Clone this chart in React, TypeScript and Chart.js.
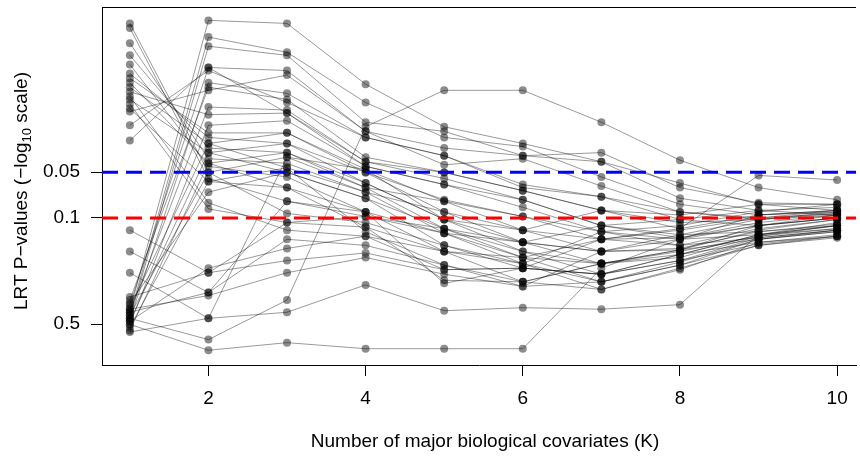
import React, { useEffect, useRef } from "react";
import Chart from "chart.js/auto";

// ---- data (values are -log10 of LRT P-values) ----
const kValues = [1, 2, 3, 4, 5, 6, 7, 8, 9, 10];
const xTickValues = [2, 4, 6, 8, 10];
const yTickPValues = [0.05, 0.1, 0.5];
const yTickLabels = ["0.05", "0.1", "0.5"];
const thresholdPValues = [0.05, 0.1];

const s01 = [0.39, 2.30, 2.28, 1.88, 1.60, 1.49, 1.37, 1.13, 1.05, 1.02];
const s02 = [0.36, 2.19, 2.09, 1.76, 1.53, 1.47, 1.27, 1.09, 1.02, 1.05];
const s03 = [0.34, 2.13, 2.07, 1.63, 1.57, 1.41, 1.43, 1.20, 1.10, 1.09];
const s04 = [0.43, 1.99, 1.97, 1.57, 1.35, 1.39, 1.21, 1.04, 0.99, 1.03];
const s05 = [0.33, 1.89, 1.82, 1.53, 1.41, 1.22, 1.14, 0.99, 0.95, 1.00];
const s06 = [0.46, 1.86, 1.78, 1.40, 1.30, 1.18, 1.05, 0.93, 1.28, 1.25];
const s07 = [0.38, 1.73, 1.71, 1.37, 1.26, 1.12, 0.95, 0.89, 0.91, 0.95];
const s08 = [0.30, 1.61, 1.64, 1.34, 1.22, 1.07, 0.91, 0.86, 0.89, 0.93];
const s09 = [0.41, 1.49, 1.56, 1.32, 1.11, 1.01, 0.86, 0.82, 0.87, 0.92];
const s10 = [0.32, 1.43, 1.49, 1.30, 1.04, 0.92, 0.78, 0.79, 0.86, 0.91];
const s11 = [0.26, 1.36, 1.43, 1.23, 0.99, 0.84, 0.70, 0.76, 0.84, 0.89];
const s12 = [0.36, 1.30, 1.40, 1.20, 0.93, 0.78, 0.63, 0.72, 0.83, 0.88];
const s13 = [0.28, 1.24, 1.33, 1.17, 0.90, 0.74, 0.58, 0.69, 0.82, 0.87];
const s14 = [0.44, 1.17, 1.30, 1.13, 0.82, 0.70, 0.53, 0.66, 0.84, 0.88];
const s15 = [0.30, 0.13, 0.18, 0.14, 0.14, 0.14, 0.67, 0.86, 1.02, 1.04];
const s16 = [0.34, 0.20, 0.46, 1.60, 1.84, 1.84, 1.63, 1.38, 1.20, 1.12];
const s17 = [0.25, 0.34, 0.38, 0.56, 0.39, 0.41, 0.40, 0.43, 0.89, 0.97];
const s18 = [0.38, 0.51, 0.86, 0.82, 0.69, 0.58, 0.70, 0.79, 0.95, 1.02];
const s19 = [0.40, 0.49, 0.64, 0.74, 0.63, 0.55, 0.78, 0.89, 0.99, 1.04];
const s20 = [0.48, 0.64, 0.72, 0.77, 0.66, 0.67, 0.86, 0.92, 1.00, 1.05];
const s21 = [0.32, 0.67, 0.80, 0.88, 0.78, 0.70, 0.91, 0.95, 1.04, 1.09];
const s22 = [0.92, 0.64, 0.97, 1.01, 0.90, 0.84, 0.95, 0.99, 1.05, 1.07];
const s23 = [0.78, 0.51, 1.11, 1.04, 0.78, 0.74, 0.86, 0.93, 1.02, 1.05];
const s24 = [0.64, 0.34, 1.40, 1.32, 0.99, 0.92, 1.05, 1.02, 1.09, 1.09];
const s25 = [2.28, 1.30, 1.03, 0.97, 0.82, 0.67, 0.63, 0.76, 0.89, 0.95];
const s26 = [2.25, 1.26, 1.11, 1.01, 0.93, 0.74, 0.70, 0.79, 0.92, 0.99];
const s27 = [2.15, 1.39, 1.36, 1.17, 1.04, 0.84, 0.78, 0.86, 0.95, 1.00];
const s28 = [2.07, 1.46, 1.43, 1.20, 1.11, 0.92, 0.86, 0.87, 0.97, 1.02];
const s29 = [2.01, 1.34, 1.27, 1.04, 0.90, 0.70, 0.58, 0.69, 0.86, 0.92];
const s30 = [1.95, 1.53, 1.49, 1.23, 0.99, 0.78, 0.70, 0.74, 0.88, 0.93];
const s31 = [1.92, 1.56, 1.56, 1.30, 1.12, 1.01, 0.91, 0.82, 0.93, 0.99];
const s32 = [1.89, 1.36, 1.20, 0.94, 0.78, 0.58, 0.53, 0.67, 0.82, 0.88];
const s33 = [1.86, 1.49, 1.33, 0.91, 0.69, 0.55, 0.58, 0.71, 0.86, 0.91];
const s34 = [1.83, 1.68, 1.69, 1.34, 1.22, 1.12, 0.95, 0.87, 0.95, 1.00];
const s35 = [1.80, 1.10, 0.92, 0.88, 0.66, 0.67, 0.63, 0.72, 0.87, 0.92];
const s36 = [1.78, 1.43, 1.30, 1.13, 0.93, 0.84, 0.78, 0.80, 0.91, 0.96];
const s37 = [1.75, 1.06, 0.97, 0.94, 0.59, 0.58, 0.70, 0.78, 0.88, 0.95];
const s38 = [1.72, 1.24, 1.20, 1.04, 0.57, 0.67, 0.63, 0.76, 0.89, 0.95];
const s39 = [1.70, 1.84, 1.94, 1.57, 1.46, 1.41, 1.37, 1.23, 1.09, 1.05];
const s40 = [1.61, 1.97, 1.76, 1.53, 1.41, 1.20, 1.14, 1.04, 1.00, 1.03];
const s41 = [1.51, 1.99, 1.69, 1.37, 1.30, 1.18, 1.05, 0.97, 0.99, 1.02];

const allSeries = [
  s01, s02, s03, s04, s05, s06, s07, s08, s09, s10, s11, s12, s13, s14,
  s15, s16, s17, s18, s19, s20, s21, s22, s23, s24, s25, s26, s27, s28,
  s29, s30, s31, s32, s33, s34, s35, s36, s37, s38, s39, s40, s41,
];

const X_TITLE = "Number of major biological covariates (K)";
const Y_TITLE_A = "LRT P\u2212values (\u2212log";
const Y_TITLE_SUB = "10";
const Y_TITLE_B = " scale)";

// ---- layout / style ----
const FONT = "'Liberation Sans', Arial, Helvetica, sans-serif";
const FS = 19;
const X_MIN = 0.6456;
const X_MAX = 10.24;
const Y_MIN = 0.033;
const Y_MAX = 2.388;
const thresholdColors = ["#0000FF", "#FF0000"];

const nlog = (p: number) => -Math.log10(p);

export default function App() {
  const ref = useRef<HTMLCanvasElement | null>(null);

  useEffect(() => {
    if (!ref.current) return;

    const frame = {
      id: "frame",
      afterDraw(chart: any) {
        const { ctx, chartArea } = chart;
        ctx.save();
        ctx.strokeStyle = "#000";
        ctx.lineWidth = 1;
        ctx.beginPath();
        ctx.moveTo(chartArea.left, chartArea.top + 0.5);
        ctx.lineTo(chartArea.right, chartArea.top + 0.5);
        ctx.stroke();

        ctx.fillStyle = "#000";
        ctx.font = `${FS}px ${FONT}`;
        ctx.textAlign = "center";
        ctx.textBaseline = "middle";
        ctx.fillText(X_TITLE, 485, 442);

        // y title with subscript
        ctx.translate(22, 191);
        ctx.rotate(-Math.PI / 2);
        ctx.textAlign = "left";
        ctx.font = `${FS}px ${FONT}`;
        const wA = ctx.measureText(Y_TITLE_A).width;
        const wB = ctx.measureText(Y_TITLE_B).width;
        ctx.font = `${Math.round(FS * 0.7)}px ${FONT}`;
        const wS = ctx.measureText(Y_TITLE_SUB).width;
        let x0 = -(wA + wS + wB) / 2;
        ctx.font = `${FS}px ${FONT}`;
        ctx.fillText(Y_TITLE_A, x0, 0);
        x0 += wA;
        ctx.font = `${Math.round(FS * 0.7)}px ${FONT}`;
        ctx.fillText(Y_TITLE_SUB, x0, 5);
        x0 += wS;
        ctx.font = `${FS}px ${FONT}`;
        ctx.fillText(Y_TITLE_B, x0, 0);
        ctx.restore();
      },
    };

    const thresholdSets = thresholdPValues.map((p, i) => ({
      type: "line" as const,
      data: [
        { x: X_MIN, y: nlog(p) },
        { x: X_MAX, y: nlog(p) },
      ],
      borderColor: thresholdColors[i],
      borderWidth: 3,
      borderDash: [16, 8],
      pointRadius: 0,
      order: 0,
    }));

    const seriesSets = allSeries.map((s) => ({
      type: "line" as const,
      data: s.map((v, i) => ({ x: kValues[i], y: v })),
      borderColor: "rgba(0,0,0,0.4)",
      borderWidth: 1,
      pointRadius: 4,
      pointBackgroundColor: "rgba(0,0,0,0.45)",
      pointBorderWidth: 0,
      pointHoverRadius: 4,
      order: 1,
    }));

    const chart = new Chart(ref.current, {
      type: "line",
      data: { datasets: [...thresholdSets, ...seriesSets] as any },
      options: {
        responsive: false,
        animation: false,
        events: [],
        layout: { padding: { left: 0, right: 0, top: 7, bottom: 0 } },
        plugins: { legend: { display: false }, tooltip: { enabled: false } },
        scales: {
          x: {
            type: "linear",
            min: X_MIN,
            max: X_MAX,
            afterBuildTicks: (s: any) => {
              s.ticks = xTickValues.map((v) => ({ value: v }));
            },
            afterFit: (s: any) => {
              s.height = 91;
              s.paddingLeft = 0;
              s.paddingRight = 0;
            },
            grid: {
              drawOnChartArea: false,
              drawTicks: true,
              tickLength: 11,
              tickColor: "#000",
              tickWidth: 1,
            },
            border: { display: true, color: "#000", width: 1 },
            ticks: {
              color: "#000",
              font: { family: FONT, size: FS },
              padding: 11,
              maxRotation: 0,
              autoSkip: false,
              callback: (v: any) => String(v),
            },
          },
          y: {
            type: "linear",
            min: Y_MIN,
            max: Y_MAX,
            afterBuildTicks: (s: any) => {
              s.ticks = yTickPValues.map((p) => ({ value: nlog(p) }));
            },
            afterFit: (s: any) => {
              s.width = 102;
              s.paddingTop = 0;
              s.paddingBottom = 0;
            },
            grid: {
              drawOnChartArea: false,
              drawTicks: true,
              tickLength: 11,
              tickColor: "#000",
              tickWidth: 1,
            },
            border: { display: true, color: "#000", width: 1 },
            ticks: {
              color: "#000",
              font: { family: FONT, size: FS },
              padding: 11,
              autoSkip: false,
              callback: (v: any) => {
                const idx = yTickPValues.findIndex(
                  (p) => Math.abs(nlog(p) - Number(v)) < 1e-6
                );
                return idx >= 0 ? yTickLabels[idx] : "";
              },
            },
          },
        },
      },
      plugins: [frame],
    });

    return () => chart.destroy();
  }, []);

  return (
    <div style={{ position: "absolute", left: 0, top: 0, width: 860, height: 456, background: "#fff" }}>
      <canvas ref={ref} width={860} height={456} style={{ display: "block" }} />
    </div>
  );
}
